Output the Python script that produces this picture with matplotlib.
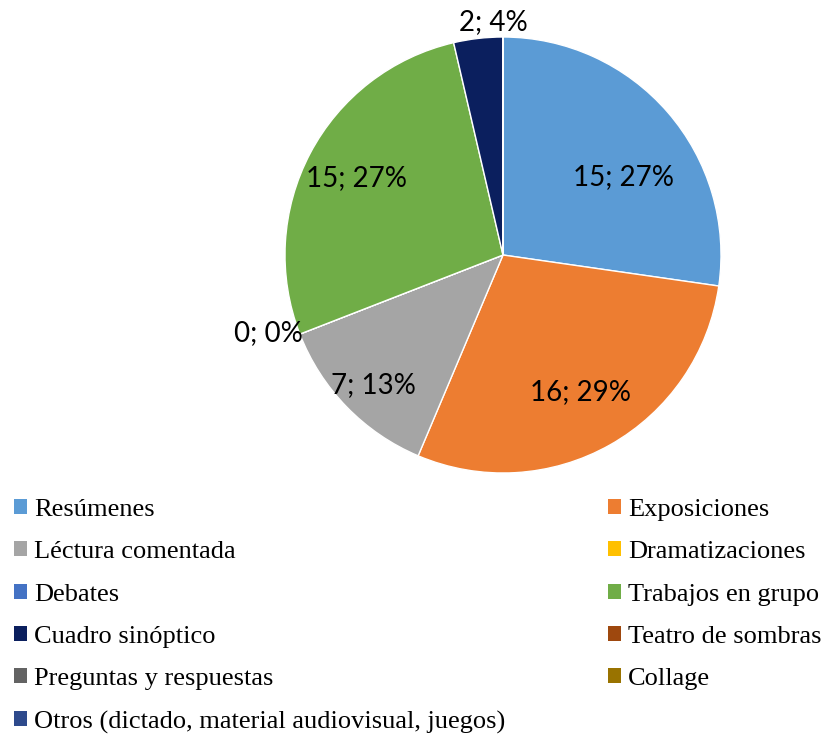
import numpy as np
import matplotlib.pyplot as plt

# actividades y frecuencias
categorias = ["Resúmenes", "Exposiciones", "Léctura comentada", "Dramatizaciones",
              "Debates", "Trabajos en grupo", "Cuadro sinóptico", "Teatro de sombras",
              "Preguntas y respuestas", "Collage",
              "Otros (dictado, material audiovisual, juegos)"]
valores = [15, 16, 7, 0, 0, 15, 2, 0, 0, 0, 0]
colores = ["#5B9BD5", "#ED7D31", "#A5A5A5", "#FFC000", "#4472C4", "#70AD47",
           "#0B1F5E", "#9E480E", "#636363", "#997300", "#2E4A8C"]

# etiqueta: (distancia en radios, giro en grados)
etiq = {0: (0.66, -8), 1: (0.72, 0), 2: (0.84, 1), 4: (1.12, -2.6),
        5: (0.76, 0), 6: (1.07, -4.3)}

fig = plt.figure(figsize=(8.27, 7.35), dpi=100)
ax = fig.add_axes([(503 - 218) / 827, (735 - 255 - 218) / 735, 436 / 827, 436 / 735])

wedges, _ = ax.pie(valores, colors=colores, startangle=90, counterclock=False,
                   wedgeprops=dict(edgecolor="white", linewidth=1))
ax.set_xlim(-1, 1)
ax.set_ylim(-1, 1)
ax.set_aspect("equal")
ax.axis("off")

total = sum(valores)
for i, w in enumerate(wedges):
    if i not in etiq:
        continue
    r, giro = etiq[i]
    ang = np.deg2rad((w.theta1 + w.theta2) / 2 + giro)
    x, y = r * np.cos(ang), r * np.sin(ang)
    ha = "center"
    if i == 4:
        ha = "right"
        x += 0.144
    ax.text(x, y, f"{valores[i]}; {round(valores[i] / total * 100)}%",
            ha=ha, va="center", fontsize=20, family="Lato", clip_on=False)

izq = [0, 2, 4, 6, 8, 10]
der = [1, 3, 5, 7, 9]
kw = dict(frameon=False, prop={"family": "Liberation Serif", "size": 19},
          handlelength=0.5, handleheight=0.5, handletextpad=0.25,
          labelspacing=0.77, borderpad=0, borderaxespad=0)
fig.legend([wedges[i] for i in izq], [categorias[i] for i in izq],
           loc="upper left", bbox_to_anchor=(14 / 827, 1 - 499 / 735), **kw)
fig.legend([wedges[i] for i in der], [categorias[i] for i in der],
           loc="upper left", bbox_to_anchor=(608 / 827, 1 - 499 / 735), **kw)
for lg in fig.legends:
    for h in lg.legend_handles:
        h.set_edgecolor("none")

fig.savefig("out.png", dpi=100)
